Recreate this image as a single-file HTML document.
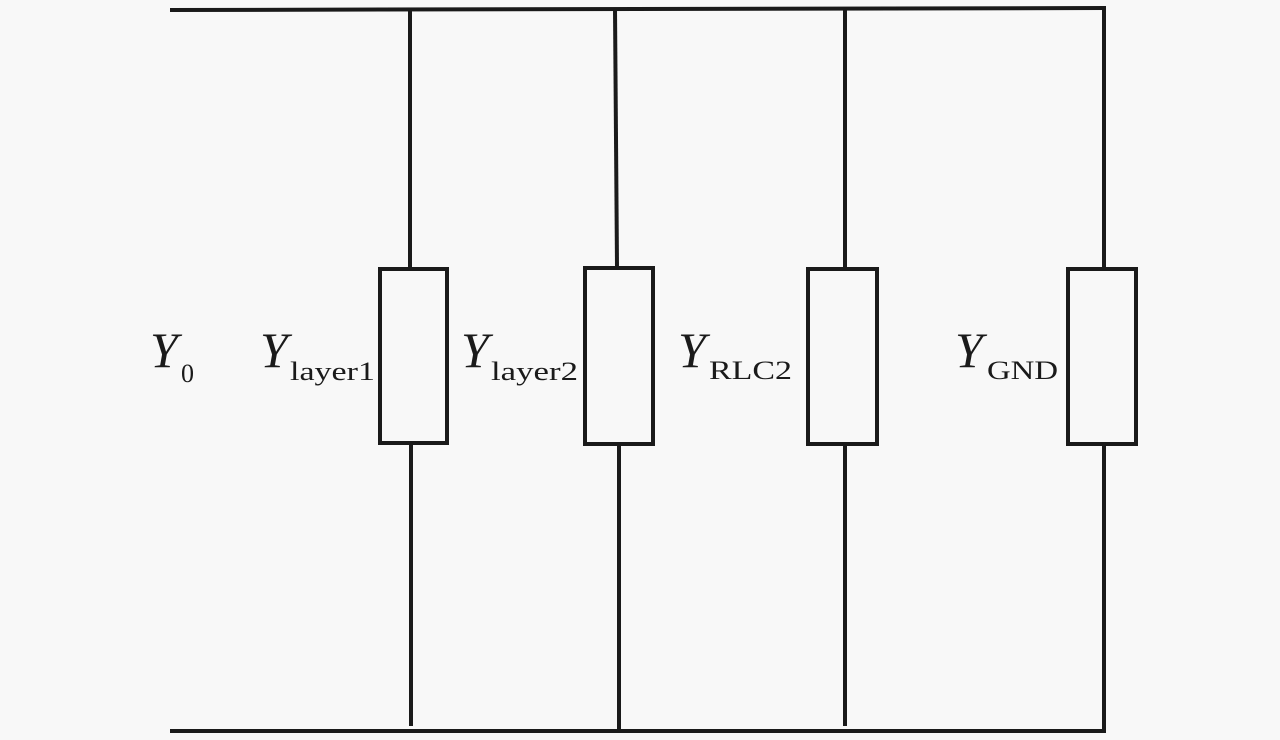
<!DOCTYPE html>
<html><head><style>html,body{margin:0;padding:0;background:#f8f8f8;}svg{display:block}</style></head>
<body>
<svg width="1280" height="740" viewBox="0 0 1280 740" xmlns="http://www.w3.org/2000/svg">
<rect width="1280" height="740" fill="#f8f8f8"/>
<g stroke="#1a1a1a" stroke-width="4" fill="none">
<line x1="170" y1="10" x2="1106" y2="8"/>
<line x1="170" y1="731" x2="1106" y2="731"/>
<line x1="410" y1="9" x2="410" y2="268"/>
<line x1="411" y1="444" x2="411" y2="726"/>
<line x1="615" y1="9" x2="617" y2="267"/>
<line x1="619" y1="445" x2="619" y2="731"/>
<line x1="845" y1="9" x2="845" y2="268"/>
<line x1="845" y1="444" x2="845" y2="726"/>
<line x1="1104" y1="8" x2="1104" y2="268"/>
<line x1="1104" y1="444" x2="1104" y2="731"/>
<rect x="380" y="269" width="67" height="174"/>
<rect x="585" y="268" width="68" height="176"/>
<rect x="808" y="269" width="69" height="175"/>
<rect x="1068" y="269" width="68" height="175"/>
</g>
<g fill="#1a1a1a" font-family="Liberation Serif, serif">
<text x="150" y="367" font-size="50" font-style="italic">Y</text>
<text x="181" y="382" font-size="26">0</text>
<text x="260" y="367" font-size="50" font-style="italic">Y</text>
<text x="290" y="380" font-size="26" textLength="85" lengthAdjust="spacingAndGlyphs">layer1</text>
<text x="461" y="367" font-size="50" font-style="italic">Y</text>
<text x="491" y="380" font-size="26" textLength="87" lengthAdjust="spacingAndGlyphs">layer2</text>
<text x="678" y="367" font-size="50" font-style="italic">Y</text>
<text x="709" y="379" font-size="26" textLength="83" lengthAdjust="spacingAndGlyphs">RLC2</text>
<text x="955" y="367" font-size="50" font-style="italic">Y</text>
<text x="987" y="379" font-size="26" textLength="71" lengthAdjust="spacingAndGlyphs">GND</text>
</g>
</svg>
</body></html>
